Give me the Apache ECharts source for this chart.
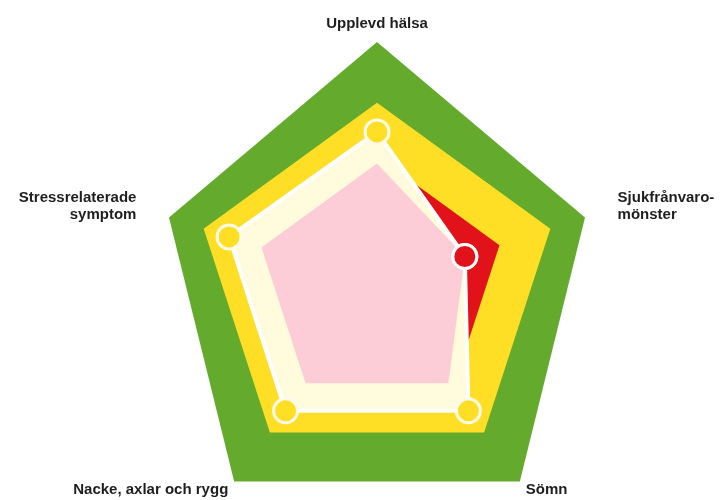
<!DOCTYPE html>
<html>
<head>
<meta charset="utf-8">
<script src="https://cdn.jsdelivr.net/npm/echarts@6/dist/echarts.min.js"></script>
<style>
  html, body { margin: 0; padding: 0; background: #fff; }
  #main { width: 722px; height: 500px; }
</style>
</head>
<body>
<div id="main"></div>
<script>
// axes, counter-clockwise from the top
const axisNames = ['Upplevd hälsa', 'Stressrelaterade\nsymptom', 'Nacke, axlar och rygg', 'Sömn', 'Sjukfrånvaro-\nmönster']

// background zones (share of full scale)
const greenZone = [1, 0.9, 1, 1, 0.9]
const yellowZone = [0.75, 0.75, 0.75, 0.75, 0.75]
const redZone = [0.53, 0.53, 0.53, 0.53, 0.53]
const pinkZone = [0.5, 0.5, 0.5, 0.5, 0.38]

// result
const resultValues = [0.63, 0.64, 0.64, 0.64, 0.38]
// the axis whose result lies in the red zone
const flaggedAxis = 4

const chart = echarts.init(document.getElementById('main'))

const CENTER = [377, 285]
const RADIUS = 243

function zone(name, values, color, z) {
  return {
    type: 'radar',
    name: name,
    z: z,
    symbol: 'none',
    silent: true,
    lineStyle: { width: 0, opacity: 0 },
    areaStyle: { color: color, opacity: 1 },
    data: [{ value: values }]
  }
}

const flaggedAngle = (90 + flaggedAxis * 360 / axisNames.length) % 360

const option = {
  animation: false,
  radar: {
    center: CENTER,
    radius: RADIUS,
    startAngle: 90,
    shape: 'polygon',
    indicator: axisNames.map(n => ({ name: n, min: 0, max: 1 })),
    splitNumber: 1,
    splitLine: { show: false },
    splitArea: { show: false },
    axisLine: { show: false },
    axisTick: { show: false },
    axisLabel: { show: false },
    axisName: {
      color: '#1e1e1e',
      fontSize: 15,
      fontWeight: 'bold',
      fontFamily: 'Liberation Sans, Arial, sans-serif',
      lineHeight: 17
    },
    nameGap: 10
  },
  // used only to place the red marker on its axis
  polar: { center: CENTER, radius: RADIUS },
  angleAxis: { type: 'value', min: 0, max: 360, startAngle: 0, clockwise: false, show: false },
  radiusAxis: { type: 'value', min: 0, max: 1, show: false },
  series: [
    zone('green', greenZone, '#63aa2d', 1),
    zone('yellow', yellowZone, '#ffdf26', 2),
    zone('red', redZone, '#e11219', 3),
    zone('resultArea', resultValues, '#fffbdc', 4),
    zone('pink', pinkZone, '#fccdd6', 5),
    {
      type: 'radar',
      name: 'result',
      z: 6,
      symbol: 'circle',
      symbolSize: 24,
      lineStyle: { color: '#ffffff', width: 4 },
      itemStyle: { color: '#ffdf26', borderColor: '#fffbe8', borderWidth: 3 },
      data: [{ value: resultValues }]
    },
    {
      type: 'scatter',
      name: 'flagged',
      coordinateSystem: 'polar',
      z: 7,
      symbol: 'circle',
      symbolSize: 24,
      itemStyle: { color: '#e11219', borderColor: '#ffffff', borderWidth: 3, opacity: 1 },
      data: [[resultValues[flaggedAxis], flaggedAngle]]
    }
  ]
}

chart.setOption(option)
</script>
</body>
</html>
